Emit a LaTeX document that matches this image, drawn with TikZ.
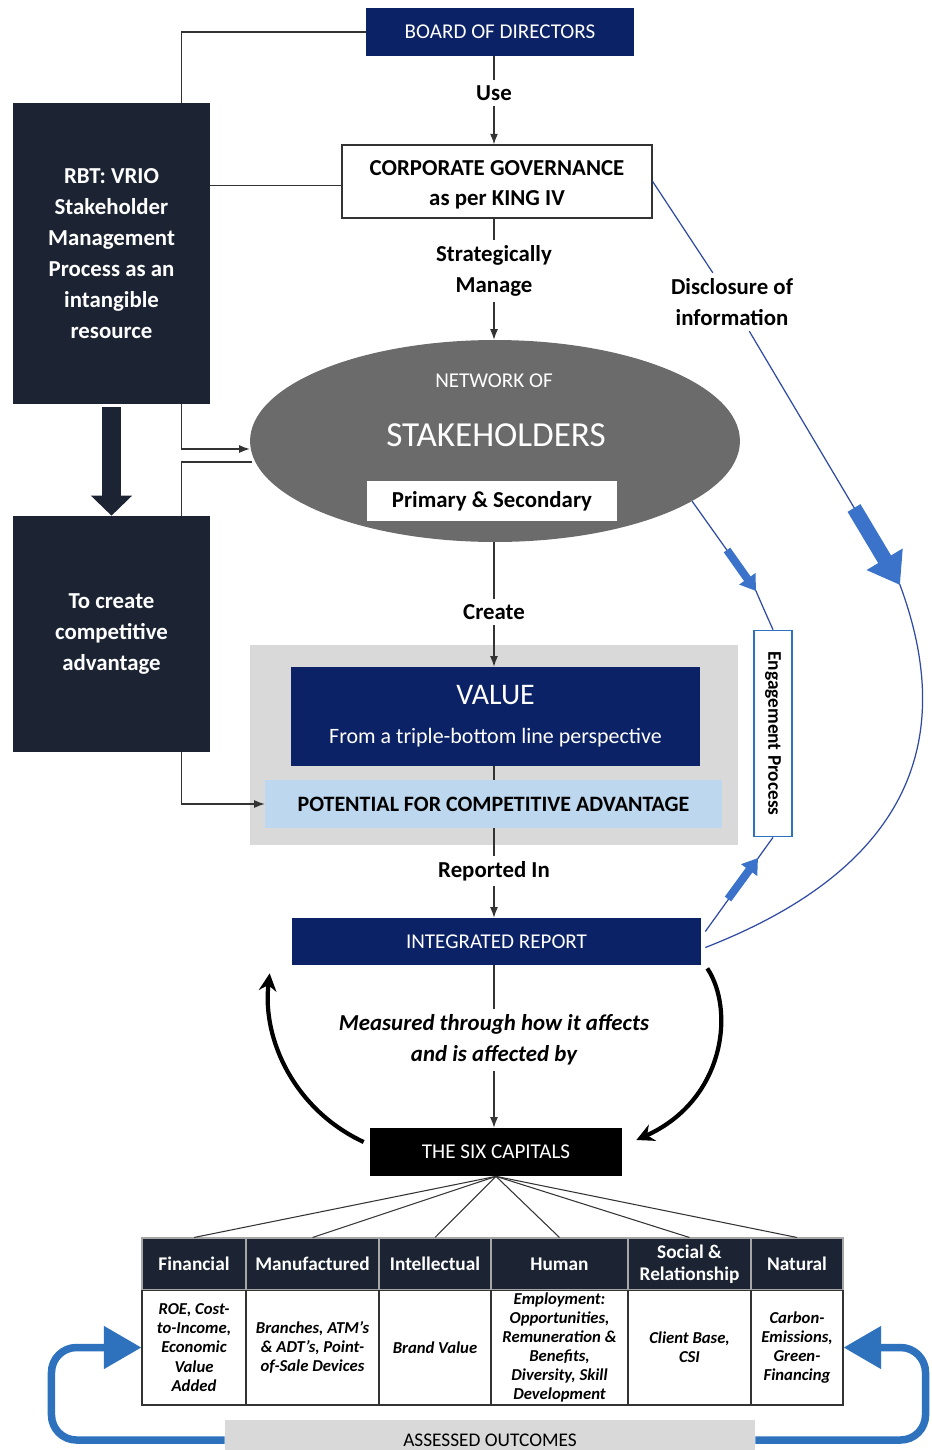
\documentclass[tikz,border=0pt]{standalone}
\usepackage{fontspec}
\setmainfont{Carlito}
\usetikzlibrary{arrows.meta,calc,shapes.geometric}
\definecolor{navy}{HTML}{0B2266}
\definecolor{darkbg}{HTML}{1C2433}
\definecolor{stakegray}{HTML}{6B6B6B}
\definecolor{lightgray}{HTML}{D9D9D9}
\definecolor{paleblue}{HTML}{BDD7EE}
\definecolor{linkblue}{HTML}{2F4AA3}
\definecolor{arrblue}{HTML}{3B73CB}
\definecolor{ublue}{HTML}{2E72BE}

\begin{document}
\begin{tikzpicture}[x=0.02cm,y=-0.02cm,
  conn/.style={draw=black!80,line width=0.6pt},
  arr/.style={conn,-{Latex[length=6pt,width=4.5pt]}},
  lbl/.style={font=\fontsize{13}{17.6}\selectfont\bfseries,align=center,inner sep=3pt},
  navybox/.style={fill=navy,text=white,inner sep=0pt,font=\fontsize{12}{14}\selectfont},
  darkbox/.style={fill=darkbg,text=white,inner sep=0pt,align=center,minimum width=3.94cm,font=\fontsize{13}{17.6}\selectfont\bfseries},
  hcell/.style={fill=darkbg,draw=gray!70,line width=0.6pt,text=white,align=center,minimum height=1.04cm,inner sep=1pt,font=\fontsize{11}{12.5}\selectfont\bfseries},
  bcell/.style={fill=white,draw=black!80,line width=0.6pt,align=center,minimum height=2.3cm,inner sep=1pt,font=\fontsize{9.5}{10.9}\selectfont\bfseries\itshape},
  bline/.style={draw=linkblue,line width=0.7pt},
  bigblock/.style={draw=arrblue,line width=0.3cm,-{Triangle[width=0.8cm,length=0.6cm]}},
  smallblock/.style={draw=arrblue,line width=0.16cm,-{Triangle[width=0.38cm,length=0.3cm]}},
  curv/.style={draw=black,line width=2.4pt,-{Stealth[length=10pt,width=10pt]}},
  uarr/.style={draw=ublue,line width=0.15cm,rounded corners=0.5cm,-{Triangle[width=0.82cm,length=0.75cm]}}]

\useasboundingbox (0,0) rectangle (932,1450);
%\draw[step=50,gray,very thin] (0,0) grid (932,1450);

% left column
\node[darkbox,minimum height=6.02cm] (rbt) at (111.5,253.5) {RBT: VRIO\\Stakeholder\\Management\\Process as an\\intangible\\resource};
\node[darkbox,minimum height=4.72cm] (adv) at (111.5,634) {To create\\competitive\\advantage};
\draw[draw=darkbg,line width=0.38cm,-{Triangle[width=0.8cm,length=0.4cm]}] ($(rbt.south)+(0,3)$) -- (adv.north);

% main column
\node[navybox,minimum width=5.36cm,minimum height=0.96cm] (board) at (500,32) {BOARD OF DIRECTORS};
\node[lbl] (use) at (494,93) {Use};
\node[draw=black!80,line width=0.8pt,fill=white,minimum width=6.2cm,minimum height=1.46cm,align=center,font=\fontsize{13}{17.6}\selectfont\bfseries] (cg) at (497,181.5) {\strut CORPORATE GOVERNANCE\\as per KING IV};
\node[lbl] (strat) at (494,271) {Strategically\\Manage};
\node[ellipse,fill=stakegray,minimum width=9.8cm,minimum height=4.04cm] (stake) at (495,441) {};
\node[text=white,font=\fontsize{12}{14}\selectfont] (netof) at (494,381) {NETWORK OF};
\node[text=white,font=\fontsize{20}{24}\selectfont] (stkh) at (496,435) {STAKEHOLDERS};
\node[fill=white,minimum width=5cm,minimum height=0.8cm,font=\fontsize{13}{15}\selectfont\bfseries] (prim) at (492,501) {Primary \& Secondary};
\node[lbl] (create) at (494,612) {Create};
\node[fill=lightgray,minimum width=9.76cm,minimum height=4cm] (bgval) at (494,745) {};
\node[navybox,minimum width=8.18cm,minimum height=1.98cm,align=center] (value) at (495.5,716.5) {{\fontsize{17}{20}\selectfont VALUE}\\[8pt]{\fontsize{12.5}{15}\selectfont From a triple-bottom line perspective}};
\node[fill=paleblue,minimum width=9.14cm,minimum height=0.96cm,font=\fontsize{12.5}{15}\selectfont\bfseries] (pot) at (493.5,804) {POTENTIAL FOR COMPETITIVE ADVANTAGE};
\node[lbl] (rep) at (494,871) {Reported In};
\node[navybox,minimum width=8.18cm,minimum height=0.94cm] (ir) at (496.5,941.5) {INTEGRATED REPORT};
\node[lbl,font=\fontsize{13}{17.6}\selectfont\bfseries\itshape] (meas) at (494,1040) {Measured through how it affects\\and is affected by};
\node[fill=black,text=white,minimum width=5.04cm,minimum height=0.96cm,font=\fontsize{12}{14}\selectfont] (six) at (496,1152) {THE SIX CAPITALS};

% right side
\node[lbl] (disc) at (732,302) {Disclosure of\\information};
\node[draw=ublue,line width=1pt,fill=white,rotate=-90,minimum width=4.12cm,minimum height=0.76cm,inner sep=1pt,font=\fontsize{11}{13}\selectfont\bfseries] (eng) at (773,733.5) {Engagement Process};

% centre connectors
\draw[conn] (board.south -| use) -- (use);
\draw[arr] (use) -- (use |- cg.north);
\draw[conn] (cg.south -| strat) -- (strat);
\draw[arr] (strat) -- (strat |- stake.north);
\draw[conn] (stake.south -| create) -- (create);
\draw[arr] (create) -- (create |- value.north);
\draw[conn] (value.south -| create) -- (pot.north -| create);
\draw[conn] (pot.south -| rep) -- (rep);
\draw[arr] (rep) -- (rep |- ir.north);
\draw[conn] (ir.south -| meas) -- (meas);
\draw[arr] (meas) -- (meas |- six.north);

% left connectors
\draw[conn] (board.west) -| ($(rbt.north east)+(-29,0)$);
\draw[conn] ($(cg.west)+(0,4)$) -- ($(cg.west -| rbt.east)+(0,4)$);
\draw[arr] ($(rbt.south east)+(-29,0)$) |- ($(stake.west)+(0,8)$);
\draw[conn] ($(adv.north east)+(-29,0)$) |- ($(stake.west)+(2,21)$);
\draw[arr] ($(adv.south east)+(-29,0)$) |- (pot.west);

% disclosure and engagement
\coordinate (dtip) at (900,585);
\coordinate (dtail) at (854,508);
\draw[bline] (cg.east) -- (disc);
\draw[bline] (disc) -- (dtip) .. controls (950,720) and (930,860) .. ($(ir.east)+(4,6)$);
\draw[bigblock] (dtail) -- (dtip);
\coordinate (etip) at (756,591);
\coordinate (etail) at (727,550);
\draw[bline] (stake.-17) -- (etip) .. controls (762,605) .. (eng.west);
\draw[smallblock] (etail) -- (etip);
\coordinate (ftail) at (728,899);
\coordinate (ftip) at (758,858);
\draw[bline] (eng.east) -- ($(ir.east)+(4,-10)$);
\draw[smallblock] (ftail) -- (ftip);

% report <-> capitals
\draw[curv] ($(six.west)+(-6,-10)$) .. controls (295,1110) and (262,1040) .. ($(ir.south west)+(-22,8)$);
\draw[curv] ($(ir.south east)+(6,3)$) .. controls (735,1010) and (725,1100) .. ($(six.east)+(14,-12)$);

% the six capitals
\foreach \i/\cx/\w/\hd/\bd in {
  1/194/2.08/Financial/{ROE, Cost-\\to-Income,\\Economic\\Value\\Added},
  2/312.5/2.66/Manufactured/{Branches, ATM’s\\\& ADT’s, Point-\\of-Sale Devices},
  3/435/2.24/Intellectual/{Brand Value},
  4/559.5/2.74/Human/{Employment:\\Opportunities,\\Remuneration \&\\Benefits,\\Diversity, Skill\\Development},
  5/689.5/2.46/{Social \&\\Relationship}/{Client Base,\\CSI},
  6/797/1.84/Natural/{Carbon-\\Emissions,\\Green-\\Financing}}{
  \node[hcell,minimum width=\w cm] (h\i) at (\cx,1264) {\hd};
  \node[bcell,minimum width=\w cm] (b\i) at (\cx,1347.5) {\bd};
  \draw[conn] (six.south) -- (h\i.north);
}

\node[fill=lightgray,minimum width=10.6cm,minimum height=0.8cm,font=\fontsize{11}{13}\selectfont] (assess) at (490,1440) {ASSESSED OUTCOMES};
\draw[uarr] (assess.west) -| ($(b1.west)+(-90,0)$) -- (b1.west);
\draw[uarr] (assess.east) -| ($(b6.east)+(82,0)$) -- (b6.east);
\end{tikzpicture}
\end{document}
